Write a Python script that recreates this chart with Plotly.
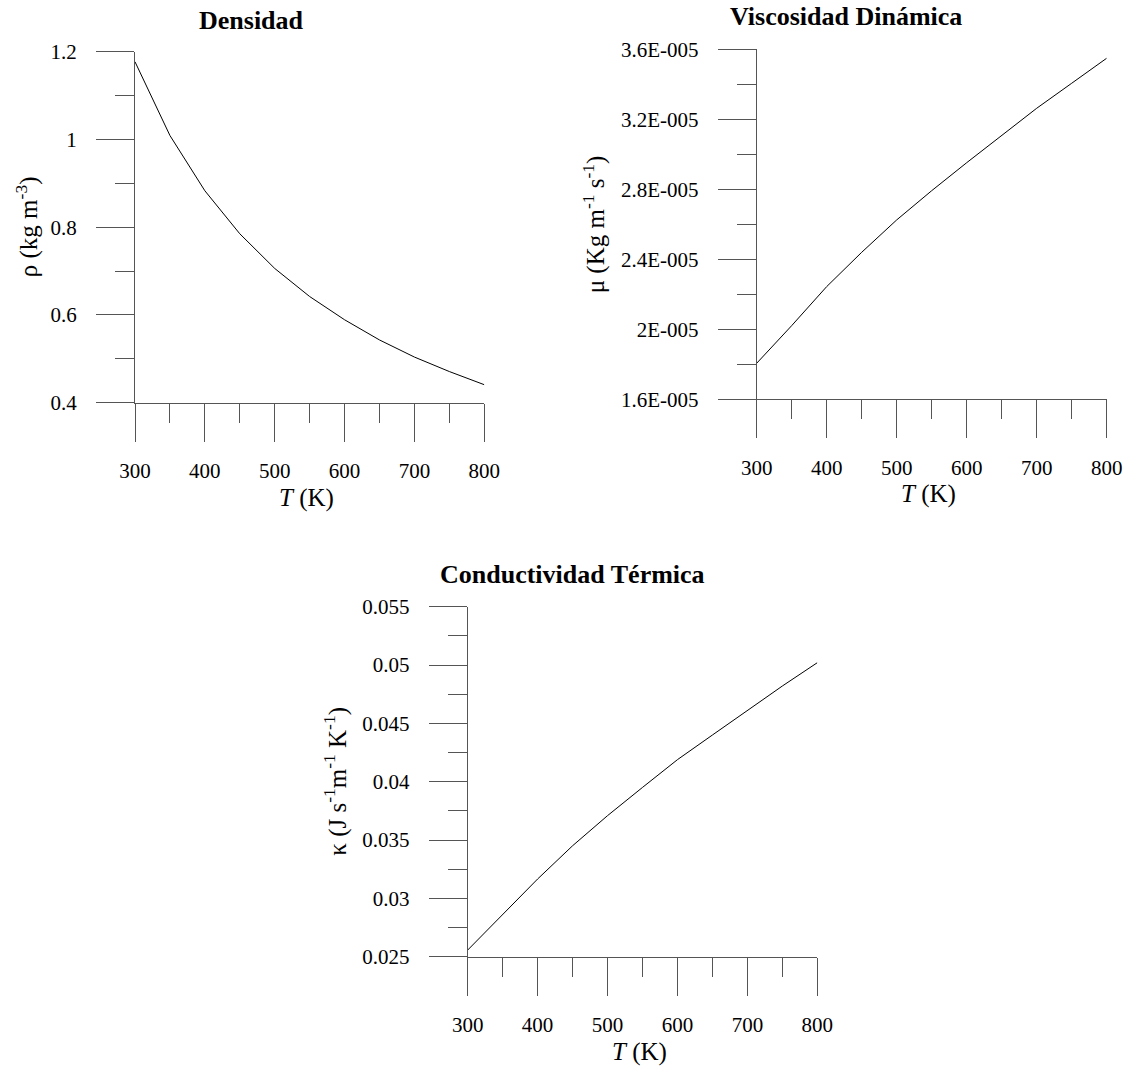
import plotly.graph_objects as go

# ---------------- data ----------------
T = [300, 350, 400, 450, 500, 550, 600, 650, 700, 750, 800]
densidad = [1.177, 1.009, 0.883, 0.785, 0.706, 0.642, 0.589, 0.543, 0.504, 0.471, 0.441]
viscosidad = [1.806e-5, 2.021e-5, 2.244e-5, 2.44e-5, 2.625e-5, 2.792e-5, 2.952e-5,
              3.107e-5, 3.263e-5, 3.406e-5, 3.549e-5]
conductividad = [0.02557, 0.02866, 0.03166, 0.03451, 0.03709, 0.03951, 0.04189,
                 0.0440, 0.04614, 0.0482, 0.0502]

x_ticks = [300, 400, 500, 600, 700, 800]
x_ticktext = ["300", "400", "500", "600", "700", "800"]
rho_ticks = [0.4, 0.6, 0.8, 1.0, 1.2]
rho_ticktext = ["0.4", "0.6", "0.8", "1", "1.2"]
mu_ticks = [1.6e-5, 2.0e-5, 2.4e-5, 2.8e-5, 3.2e-5, 3.6e-5]
mu_ticktext = ["1.6E-005", "2E-005", "2.4E-005", "2.8E-005", "3.2E-005", "3.6E-005"]
k_ticks = [0.025, 0.03, 0.035, 0.04, 0.045, 0.05, 0.055]
k_ticktext = ["0.025", "0.03", "0.035", "0.04", "0.045", "0.05", "0.055"]

titles = ["Densidad", "Viscosidad Dinámica", "Conductividad Térmica"]
ytitles = ["ρ (kg m<sup>-3</sup>)", "μ (Kg m<sup>-1</sup> s<sup>-1</sup>)",
           "κ (J s<sup>-1</sup>m<sup>-1</sup> K<sup>-1</sup>)"]
xtitle = "<i>T</i> (K)"

# ---------------- layout helpers ----------------
W, H = 1128, 1070
FONT = "Liberation Serif, Times New Roman, serif"
AXC = "#555555"


def xd(a, b):
    return [a / W, b / W]


def yd(top, bottom):
    return [1 - bottom / H, 1 - top / H]


def px(x):
    return x / W


def py(y):
    return 1 - y / H


# plot boxes in pixels: (left, right, top, bottom)
boxes = [(135, 484.3, 51.7, 402.7), (756.7, 1106.7, 49.3, 399.3), (467.7, 817.3, 606.7, 956.7)]

fig = go.Figure()
series = [densidad, viscosidad, conductividad]
for i, ys in enumerate(series):
    sfx = "" if i == 0 else str(i + 1)
    fig.add_trace(go.Scatter(x=T, y=ys, mode="lines", line=dict(color="black", width=1),
                             xaxis="x" + sfx, yaxis="y" + sfx, showlegend=False))

yspecs = [
    (rho_ticks, rho_ticktext, [0.4, 1.2], 0.1),
    (mu_ticks, mu_ticktext, [1.6e-5, 3.6e-5], 2e-6),
    (k_ticks, k_ticktext, [0.025, 0.055], 0.0025),
]

layout = dict(width=W, height=H, margin=dict(l=0, r=0, t=0, b=0, autoexpand=False),
              paper_bgcolor="white", plot_bgcolor="white",
              font=dict(family=FONT, color="black", size=21), annotations=[])

for i, (l, r, t, b) in enumerate(boxes):
    sfx = "" if i == 0 else str(i + 1)
    tv, tt, rng, mdt = yspecs[i]
    layout["xaxis" + sfx] = dict(
        domain=xd(l, r), anchor="y" + sfx, range=[300, 800], automargin=False,
        tickvals=x_ticks, ticktext=x_ticktext, ticks="outside", ticklen=38,
        tickcolor=AXC, tickwidth=1, showline=True, linecolor=AXC, linewidth=1,
        showgrid=False, zeroline=False, ticklabelstandoff=11,
        tickfont=dict(size=21, family=FONT, color="black"),
        minor=dict(ticks="outside", ticklen=19, tickcolor=AXC, tickwidth=1,
                   tick0=300, dtick=50, showgrid=False),
    )
    layout["yaxis" + sfx] = dict(
        domain=yd(t, b), anchor="x" + sfx, range=rng, automargin=False,
        tickvals=tv, ticktext=tt, ticks="outside", ticklen=38,
        tickcolor=AXC, tickwidth=1, showline=True, linecolor=AXC, linewidth=1,
        showgrid=False, zeroline=False, ticklabelstandoff=15,
        tickfont=dict(size=21, family=FONT, color="black"),
        minor=dict(ticks="outside", ticklen=19, tickcolor=AXC, tickwidth=1,
                   tick0=rng[0], dtick=mdt, showgrid=False),
    )

title_pos = [(251, 20.5), (846, 17), (572, 574)]
ytitle_pos = [(27, 227.2), (594, 224.3), (336, 781.7)]
for i, (l, r, t, b) in enumerate(boxes):
    tx, ty = title_pos[i]
    layout["annotations"].append(dict(
        text="<b>" + titles[i] + "</b>", x=px(tx), y=py(ty), xref="paper", yref="paper",
        xanchor="center", yanchor="middle", showarrow=False,
        font=dict(size=26, family=FONT, color="black")))
    yx, yy = ytitle_pos[i]
    layout["annotations"].append(dict(
        text=ytitles[i], x=px(yx), y=py(yy), xref="paper", yref="paper",
        xanchor="center", yanchor="middle", showarrow=False, textangle=-90,
        font=dict(size=25, family=FONT, color="black")))
    layout["annotations"].append(dict(
        text=xtitle, x=px((l + r) / 2 - 3), y=py(b + 95), xref="paper", yref="paper",
        xanchor="center", yanchor="middle", showarrow=False,
        font=dict(size=25, family=FONT, color="black")))

fig.update_layout(**layout)
fig.write_html("out.html")
